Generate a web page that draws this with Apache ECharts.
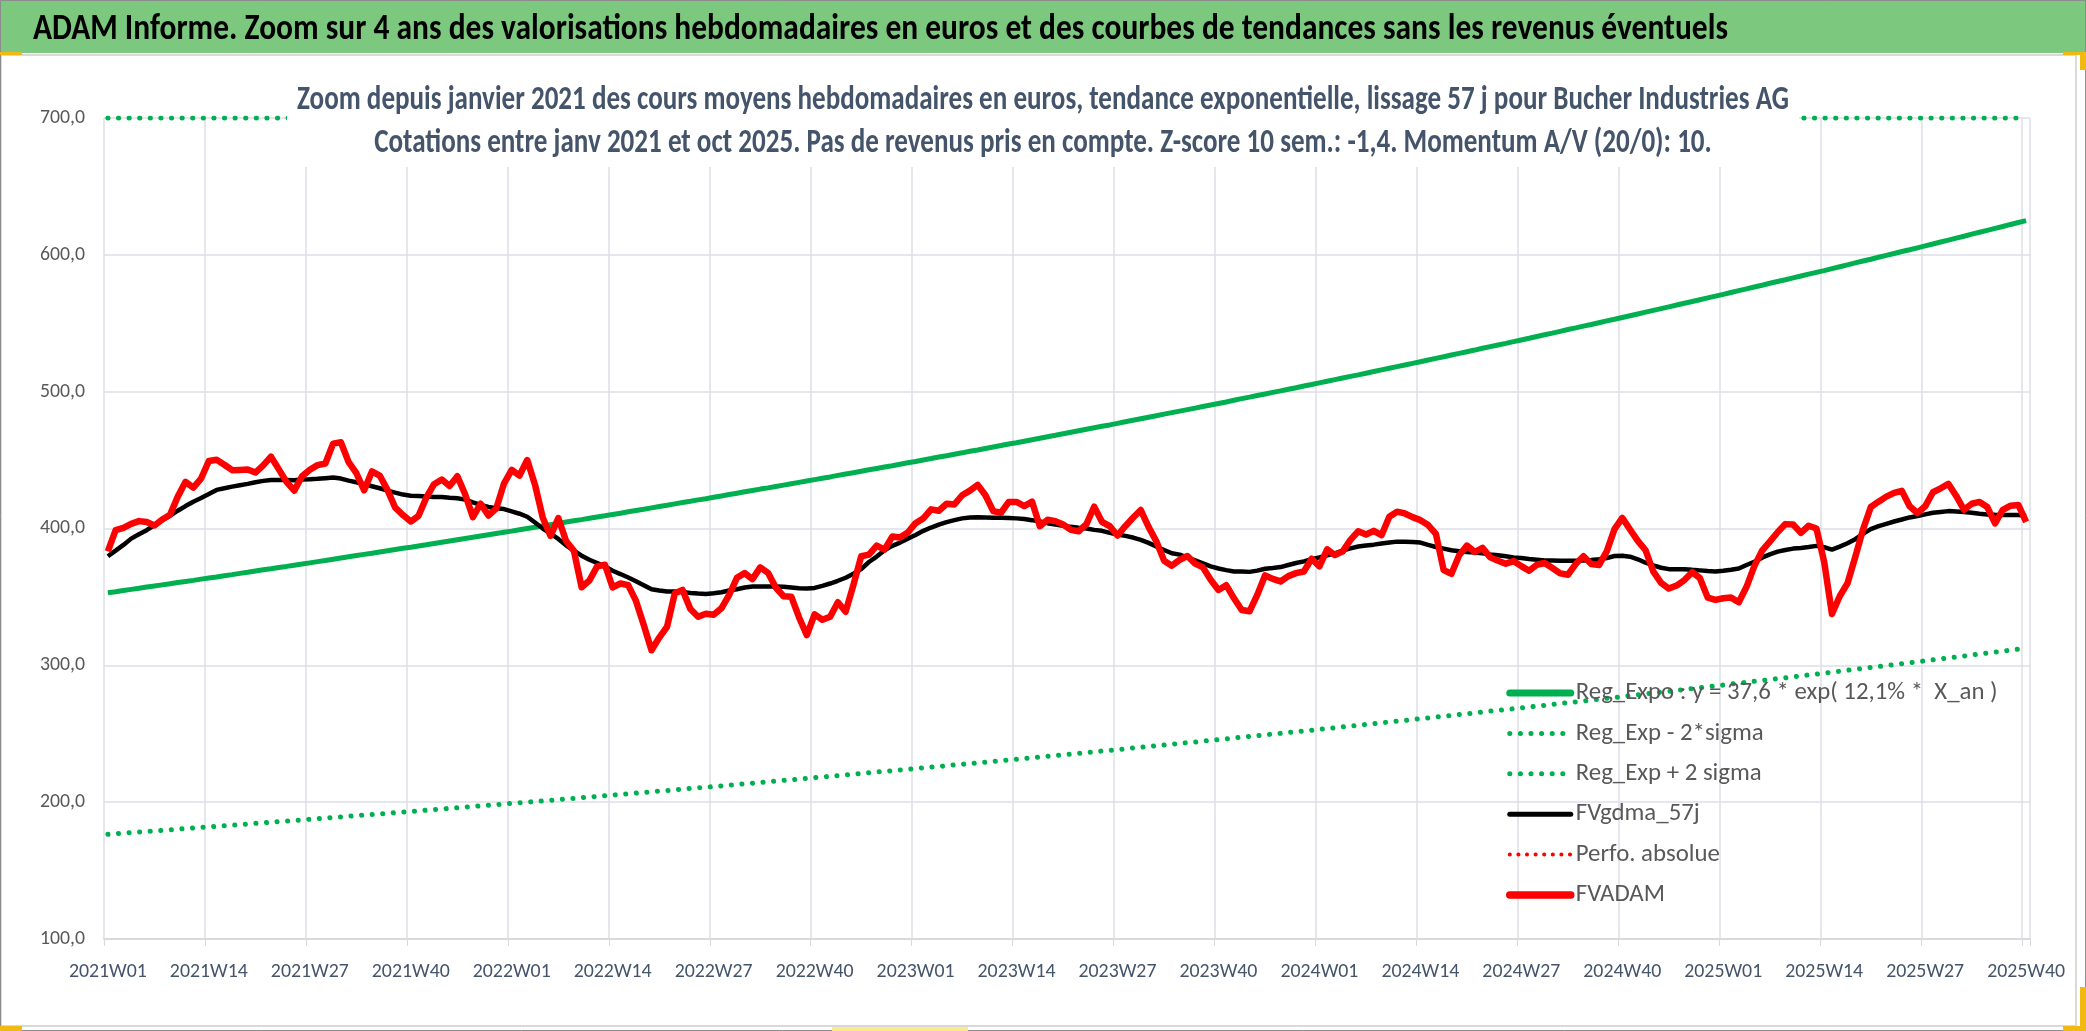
<!DOCTYPE html>
<html>
<head>
<meta charset="utf-8">
<script src="https://cdn.jsdelivr.net/npm/echarts@6/dist/echarts.min.js"></script>
<style>
html,body{margin:0;padding:0;background:#fff;}
#chart{width:2086px;height:1031px;}
</style>
</head>
<body>
<div id="chart"></div>
<script>
// ---------- DATA ----------
const years = [2021, 2022, 2023, 2024, 2025];
const weeksPerYear = [52, 52, 52, 52, 40];

const mainTitle = "ADAM Informe. Zoom sur 4 ans des valorisations hebdomadaires en euros et des courbes de tendances sans les revenus éventuels";
const subTitle1 = "Zoom depuis janvier 2021 des cours moyens hebdomadaires en euros, tendance exponentielle, lissage 57 j pour Bucher Industries AG";
const subTitle2 = "Cotations entre janv 2021 et oct 2025. Pas de revenus pris en compte. Z-score 10 sem.: -1,4. Momentum A/V (20/0): 10.";

const seriesNames = [
  "Reg_Expo : y = 37,6 * exp( 12,1% *  X_an )",
  "Reg_Exp - 2*sigma",
  "Reg_Exp + 2 sigma",
  "FVgdma_57j",
  "Perfo. absolue",
  "FVADAM"
];

const regExpo = [
353.0,353.8,354.7,355.5,356.3,357.2,358.0,358.8,359.6,360.5,361.3,362.1,363.0,
363.8,364.6,365.5,366.3,367.2,368.0,368.9,369.8,370.6,371.5,372.3,373.2,374.0,
374.9,375.8,376.6,377.5,378.4,379.3,380.2,381.1,381.9,382.8,383.7,384.6,385.5,
386.3,387.2,388.1,389.1,390.0,390.9,391.8,392.7,393.6,394.5,395.4,396.3,397.2,
398.1,399.1,400.0,400.9,401.9,402.8,403.7,404.7,405.6,406.5,407.5,408.4,409.3,
410.3,411.2,412.2,413.2,414.1,415.1,416.1,417.0,418.0,419.0,419.9,420.9,421.8,
422.8,423.8,424.8,425.8,426.8,427.8,428.8,429.7,430.7,431.7,432.7,433.7,434.7,
435.7,436.7,437.7,438.8,439.8,440.8,441.8,442.9,443.9,444.9,445.9,447.0,448.0,
449.0,450.1,451.1,452.2,453.2,454.3,455.3,456.4,457.4,458.5,459.6,460.6,461.7,
462.7,463.8,464.9,466.0,467.1,468.1,469.2,470.3,471.4,472.5,473.6,474.7,475.7,
476.8,478.0,479.1,480.2,481.3,482.4,483.6,484.7,485.8,486.9,488.0,489.2,490.3,
491.4,492.5,493.7,494.9,496.0,497.2,498.3,499.5,500.6,501.8,502.9,504.1,505.2,
506.4,507.6,508.8,510.0,511.2,512.3,513.5,514.7,515.9,517.1,518.3,519.5,520.7,
521.9,523.1,524.3,525.5,526.8,528.0,529.2,530.4,531.7,532.9,534.1,535.3,536.6,
537.8,539.0,540.3,541.6,542.8,544.1,545.4,546.6,547.9,549.1,550.4,551.7,552.9,
554.2,555.5,556.8,558.1,559.4,560.7,562.0,563.3,564.6,565.9,567.2,568.5,569.8,
571.1,572.5,573.8,575.1,576.5,577.8,579.2,580.5,581.8,583.2,584.5,585.9,587.2,
588.5,589.9,591.3,592.7,594.1,595.5,596.8,598.2,599.6,601.0,602.4,603.7,605.1,
606.5,607.9,609.4,610.8,612.2,613.6,615.1,616.5,617.9,619.3,620.7,622.2,623.6,625.0
];

const regMinus2Sigma = [
176.5,176.9,177.4,177.8,178.2,178.6,179.0,179.4,179.8,180.3,180.7,181.1,181.5,
181.9,182.3,182.8,183.2,183.6,184.0,184.5,184.9,185.3,185.8,186.2,186.6,187.0,
187.5,187.9,188.3,188.8,189.2,189.7,190.1,190.6,191.0,191.4,191.9,192.3,192.8,
193.2,193.6,194.1,194.6,195.0,195.5,195.9,196.4,196.8,197.3,197.7,198.2,198.6,
199.1,199.6,200.0,200.5,201.0,201.4,201.9,202.4,202.8,203.3,203.8,204.2,204.7,
205.2,205.6,206.1,206.6,207.1,207.6,208.1,208.5,209.0,209.5,210.0,210.5,210.9,
211.4,211.9,212.4,212.9,213.4,213.9,214.4,214.9,215.4,215.9,216.4,216.9,217.4,
217.9,218.4,218.9,219.4,219.9,220.4,220.9,221.5,222.0,222.5,223.0,223.5,224.0,
224.5,225.1,225.6,226.1,226.6,227.2,227.7,228.2,228.7,229.3,229.8,230.3,230.9,
231.4,231.9,232.5,233.0,233.6,234.1,234.6,235.2,235.7,236.3,236.8,237.4,237.9,
238.4,239.0,239.6,240.1,240.7,241.2,241.8,242.4,242.9,243.5,244.0,244.6,245.2,
245.7,246.3,246.9,247.5,248.0,248.6,249.2,249.8,250.3,250.9,251.5,252.1,252.6,
253.2,253.8,254.4,255.0,255.6,256.2,256.8,257.4,258.0,258.6,259.2,259.8,260.4,
261.0,261.6,262.2,262.8,263.4,264.0,264.6,265.2,265.9,266.5,267.1,267.7,268.3,
268.9,269.5,270.2,270.8,271.4,272.1,272.7,273.3,274.0,274.6,275.2,275.9,276.5,
277.1,277.8,278.4,279.1,279.7,280.4,281.0,281.7,282.3,283.0,283.6,284.3,284.9,
285.6,286.3,286.9,287.6,288.3,288.9,289.6,290.3,290.9,291.6,292.3,293.0,293.6,
294.3,295.0,295.7,296.4,297.1,297.8,298.4,299.1,299.8,300.5,301.2,301.9,302.6,
303.3,304.0,304.7,305.4,306.1,306.8,307.6,308.3,309.0,309.7,310.4,311.1,311.8,312.5
];

// upper band is capped at the top of the value axis in the source sheet
const regPlus2Sigma = [
700,700,700,700,700,700,700,700,700,700,700,700,700,
700,700,700,700,700,700,700,700,700,700,700,700,700,
700,700,700,700,700,700,700,700,700,700,700,700,700,
700,700,700,700,700,700,700,700,700,700,700,700,700,
700,700,700,700,700,700,700,700,700,700,700,700,700,
700,700,700,700,700,700,700,700,700,700,700,700,700,
700,700,700,700,700,700,700,700,700,700,700,700,700,
700,700,700,700,700,700,700,700,700,700,700,700,700,
700,700,700,700,700,700,700,700,700,700,700,700,700,
700,700,700,700,700,700,700,700,700,700,700,700,700,
700,700,700,700,700,700,700,700,700,700,700,700,700,
700,700,700,700,700,700,700,700,700,700,700,700,700,
700,700,700,700,700,700,700,700,700,700,700,700,700,
700,700,700,700,700,700,700,700,700,700,700,700,700,
700,700,700,700,700,700,700,700,700,700,700,700,700,
700,700,700,700,700,700,700,700,700,700,700,700,700,
700,700,700,700,700,700,700,700,700,700,700,700,700,
700,700,700,700,700,700,700,700,700,700,700,700,700,
700,700,700,700,700,700,700,700,700,700,700,700,700,700
];

const fvgdma57 = [
379.7,383.8,388.0,392.6,395.8,398.8,402.5,405.9,409.3,413.0,416.4,419.6,422.3,
425.2,428.2,429.4,430.6,431.6,432.6,433.8,434.8,435.4,435.5,435.4,435.3,435.8,
436.0,436.3,436.8,437.3,436.5,435.0,433.8,432.4,430.9,429.4,427.7,426.2,424.8,
424.0,423.7,423.3,423.0,423.0,422.5,422.1,421.1,419.1,417.2,415.7,414.8,414.2,
412.5,410.8,408.6,404.4,400.0,396.3,392.4,387.7,383.8,380.1,377.2,374.8,372.3,
369.1,366.7,364.2,361.5,358.6,355.6,354.7,353.9,353.9,353.7,352.9,352.5,352.2,
352.7,353.4,354.7,355.6,356.9,357.6,357.6,357.6,357.6,357.4,356.9,356.4,356.1,
356.6,358.1,359.8,361.8,364.0,366.9,370.3,375.5,379.5,384.1,387.3,389.7,392.6,
395.3,398.3,400.7,402.9,404.7,406.1,407.4,408.1,408.3,408.1,407.8,407.8,407.6,
407.4,406.9,406.1,405.1,403.9,402.9,402.0,401.2,400.5,400.0,399.0,398.3,396.8,
395.6,394.6,393.4,391.7,389.5,386.8,384.3,381.9,380.9,378.7,376.7,374.5,372.3,
370.8,369.6,368.6,368.5,368.3,369.2,370.6,371.1,371.8,373.3,374.8,376.0,377.5,
378.9,380.4,381.9,383.8,385.5,386.8,387.5,388.2,389.0,389.7,390.4,390.4,390.2,
389.7,388.0,386.5,385.3,384.1,383.3,382.8,382.4,381.9,381.1,380.4,379.7,378.9,
378.4,377.7,377.2,376.7,376.7,376.5,376.5,376.5,376.7,377.0,377.5,378.4,379.9,
380.1,379.4,377.5,375.0,373.0,371.3,370.3,370.3,370.3,369.8,369.4,368.9,368.6,
369.1,369.9,370.8,373.3,375.7,378.7,381.1,383.1,384.3,385.3,385.8,386.5,387.3,
386.3,384.6,386.8,389.2,392.2,396.1,399.5,401.7,403.4,405.1,406.6,408.1,409.1,
410.3,411.5,412.1,412.7,412.5,412.0,411.5,410.8,410.3,410.0,409.8,409.8,409.8,409.3
];

const perfoAbsolue = [];

const fvadam = [
383.3,398.9,400.5,403.4,405.4,404.7,402.2,406.6,410.0,423.3,434.1,429.9,436.5,
449.3,450.2,446.6,442.6,442.8,443.1,440.9,446.1,452.5,443.4,434.1,427.7,438.2,
442.9,446.3,447.5,462.0,463.0,448.5,440.4,427.9,441.7,438.7,428.2,415.2,409.8,
405.1,409.3,422.5,432.4,435.8,431.1,438.2,425.0,408.3,418.1,409.5,414.5,432.8,
442.9,438.7,450.0,431.9,407.8,394.6,407.6,390.9,383.8,357.1,362.0,372.3,373.5,
356.9,359.8,358.6,347.1,329.4,311.0,320.3,328.2,352.7,355.1,341.2,335.5,337.7,
337.0,341.7,351.5,364.0,367.4,363.0,371.6,367.6,356.9,350.5,350.2,335.0,322.1,
337.3,333.3,335.5,346.1,339.2,358.8,379.7,380.9,387.5,384.6,394.1,393.4,397.1,
403.9,407.4,414.0,413.0,418.1,417.6,424.3,427.7,431.9,424.3,412.7,411.5,419.4,
419.4,416.4,419.6,401.7,406.4,405.4,402.9,399.0,398.0,403.2,415.9,404.9,401.7,
394.9,401.7,407.8,413.5,401.2,390.7,376.5,372.8,377.0,379.9,374.3,371.6,362.5,
355.1,358.6,349.0,340.4,339.5,351.5,365.7,363.2,361.3,365.2,367.4,368.6,377.9,
372.3,384.8,380.6,383.3,391.7,398.0,395.6,398.3,395.1,408.6,412.3,411.0,408.3,
406.1,402.5,396.1,369.6,366.9,380.4,387.5,382.8,385.8,378.9,376.5,374.3,376.2,
372.5,369.1,373.5,374.8,371.1,367.2,366.2,374.0,379.7,374.0,373.3,383.3,399.5,
407.8,399.3,391.0,384.1,368.4,360.3,356.1,358.3,362.3,368.1,363.7,349.5,347.8,
349.0,349.5,346.1,357.4,372.5,383.8,390.4,397.3,403.2,402.9,396.8,402.0,400.0,
375.5,337.5,350.5,360.0,379.2,399.3,415.7,419.6,423.3,426.0,427.5,416.2,411.3,
416.2,426.5,429.4,432.6,423.8,413.7,418.1,419.4,415.7,403.7,413.7,416.7,417.2,404.9
];

const yTicks = { min: 100, max: 700, interval: 100 };

// ---------- CATEGORIES ----------
const weeks = [];
years.forEach((y, k) => {
  for (let w = 1; w <= weeksPerYear[k]; w++) {
    weeks.push(y + 'W' + (w < 10 ? '0' + w : '' + w));
  }
});

// ---------- FONT HANDLING ----------
const measureCtx = document.createElement('canvas').getContext('2d');
function hasFont(name) {
  const s = 'mmmmmmmmmmlliiWW0123456789';
  const out = [];
  for (const base of ['monospace', 'serif']) {
    measureCtx.font = '72px ' + base;
    const a = measureCtx.measureText(s).width;
    measureCtx.font = "72px '" + name + "', " + base;
    const b = measureCtx.measureText(s).width;
    out.push(a !== b);
  }
  return out[0] || out[1];
}
const candidates = ['Carlito', 'Liberation Sans Narrow', 'DejaVu Sans Condensed', 'Liberation Sans'];
let FAMILY = 'sans-serif';
for (const c of candidates) { if (hasFont(c)) { FAMILY = "'" + c + "', sans-serif"; break; } }
function textWidth(text, weight, size) {
  measureCtx.font = weight + ' ' + size + 'px ' + FAMILY;
  return measureCtx.measureText(text).width;
}
function fitSize(text, weight, target) { return 100 * target / textWidth(text, weight, 100); }

// titles: sized by cap height, squeezed horizontally to the reference width
const TITLE_FS = 36, SUB_FS = 34;
const titleScale = 1695 / textWidth(mainTitle, 'bold', TITLE_FS);
const subScale = 1492 / textWidth(subTitle1, 'bold', SUB_FS);
const subBoxW = 1492 + 20;
const legendSize = fitSize(seriesNames[0], 'normal', 422);
const yLabSize = fitSize('700,0', 'normal', 45);
const xLabSize = fitSize('2021W01', 'normal', 78);

// ---------- CHART ----------
const GREEN = '#00B050', RED = '#FF0000', BLACK = '#000000';
const dots = (w, gap) => ({ type: [0.1, gap], width: w, cap: 'round' });

const chart = echarts.init(document.getElementById('chart'), null, { renderer: 'canvas' });

chart.setOption({
  backgroundColor: '#ffffff',
  animation: false,
  graphic: [
    { type: 'rect', z: -10, shape: { x: 1, y: 55, width: 2075, height: 971 },
      style: { fill: '#ffffff', stroke: '#D9D9D9', lineWidth: 2 } },
    { type: 'rect', z: -9, shape: { x: 0, y: 0, width: 2086, height: 53 },
      style: { fill: '#7DC87F' } },
    { type: 'text', z: 20, x: 33, y: 30, scaleX: titleScale,
      style: { text: mainTitle, fontFamily: FAMILY, fontWeight: 'bold', fontSize: TITLE_FS,
               fill: '#000000', align: 'left', verticalAlign: 'middle' } },
    { type: 'rect', z: 20, shape: { x: 1043 - subBoxW / 2, y: 75, width: subBoxW, height: 92 },
      style: { fill: '#ffffff' } },
    { type: 'text', z: 21, x: 1043, y: 100, scaleX: subScale,
      style: { text: subTitle1, fontFamily: FAMILY, fontWeight: 'bold', fontSize: SUB_FS,
               fill: '#44546A', align: 'center', verticalAlign: 'middle' } },
    { type: 'text', z: 21, x: 1043, y: 143, scaleX: subScale,
      style: { text: subTitle2, fontFamily: FAMILY, fontWeight: 'bold', fontSize: SUB_FS,
               fill: '#44546A', align: 'center', verticalAlign: 'middle' } },
    { type: 'rect', z: 50, shape: { x: 0.5, y: 0.5, width: 2085, height: 1030 },
      style: { fill: null, stroke: '#8C8C8C', lineWidth: 1 } },
    { type: 'rect', z: 51, shape: { x: 0, y: 52, width: 22, height: 3 }, style: { fill: '#F2B912' } },
    { type: 'rect', z: 51, shape: { x: 2063, y: 52, width: 23, height: 3 }, style: { fill: '#F2B912' } },
    { type: 'rect', z: 51, shape: { x: 2080, y: 52, width: 6, height: 18 }, style: { fill: '#F2B912' } },
    { type: 'rect', z: 51, shape: { x: 2080, y: 987, width: 6, height: 44 }, style: { fill: '#F2B912' } },
    { type: 'rect', z: 51, shape: { x: 2063, y: 1026, width: 23, height: 5 }, style: { fill: '#F2B912' } },
    { type: 'rect', z: 51, shape: { x: 0, y: 1026, width: 22, height: 5 }, style: { fill: '#F2B912' } },
    { type: 'rect', z: 51, shape: { x: 832, y: 1027, width: 136, height: 4 }, style: { fill: '#FBEA8C' } }
  ],
  legend: {
    orient: 'vertical',
    left: 1506, top: 678,
    padding: 0,
    itemWidth: 61, itemHeight: 30, itemGap: 10.4,
    data: [
      { name: seriesNames[0], lineStyle: { width: 7 } },
      { name: seriesNames[1] },
      { name: seriesNames[2] },
      { name: seriesNames[3], lineStyle: { width: 5 } },
      { name: seriesNames[4] },
      { name: seriesNames[5], lineStyle: { width: 7.5 } }
    ],
    itemStyle: { opacity: 0, borderWidth: 0 },
    lineStyle: { width: 'inherit', cap: 'round' },
    textStyle: { fontFamily: FAMILY, fontSize: legendSize, color: '#595959', lineHeight: 30 },
    selectedMode: false
  },
  grid: { left: 104, right: 56, top: 118, bottom: 92, containLabel: false },
  xAxis: {
    type: 'category',
    data: weeks,
    boundaryGap: true,
    axisLine: { show: true, lineStyle: { color: '#D9D9D9', width: 2 } },
    axisTick: { show: true, interval: 12, length: 7, lineStyle: { color: '#D9D9D9' } },
    splitLine: { show: true, interval: 12, lineStyle: { color: '#DCDFE6', width: 1.5 } },
    axisLabel: { interval: 12, margin: Math.round(33 - xLabSize / 2), fontFamily: FAMILY, fontSize: xLabSize, color: '#44546A' }
  },
  yAxis: {
    type: 'value',
    min: yTicks.min, max: yTicks.max, interval: yTicks.interval,
    axisLine: { show: false },
    axisTick: { show: false },
    splitLine: { show: true, lineStyle: { color: '#DCDFE6', width: 1.5 } },
    axisLabel: {
      margin: 19, fontFamily: FAMILY, fontSize: yLabSize, color: '#595959',
      formatter: v => v.toFixed(1).replace('.', ',')
    }
  },
  series: [
    { name: seriesNames[0], type: 'line', data: regExpo, symbol: 'none', z: 2,
      lineStyle: { color: GREEN, width: 5 }, itemStyle: { color: GREEN } },
    { name: seriesNames[1], type: 'line', data: regMinus2Sigma, symbol: 'none', z: 2,
      lineStyle: Object.assign({ color: GREEN }, dots(5, 10.5)), itemStyle: { color: GREEN } },
    { name: seriesNames[2], type: 'line', data: regPlus2Sigma, symbol: 'none', z: 2,
      lineStyle: Object.assign({ color: GREEN }, dots(5, 10.5)), itemStyle: { color: GREEN } },
    { name: seriesNames[3], type: 'line', data: fvgdma57, symbol: 'none', z: 3,
      lineStyle: { color: BLACK, width: 4.5 }, itemStyle: { color: BLACK } },
    { name: seriesNames[4], type: 'line', data: perfoAbsolue, symbol: 'none', z: 3,
      lineStyle: Object.assign({ color: RED }, dots(4, 8.5)), itemStyle: { color: RED } },
    { name: seriesNames[5], type: 'line', data: fvadam, symbol: 'none', z: 4,
      lineStyle: { color: RED, width: 6.5, join: 'round' }, itemStyle: { color: RED } }
  ]
});
</script>
</body>
</html>
